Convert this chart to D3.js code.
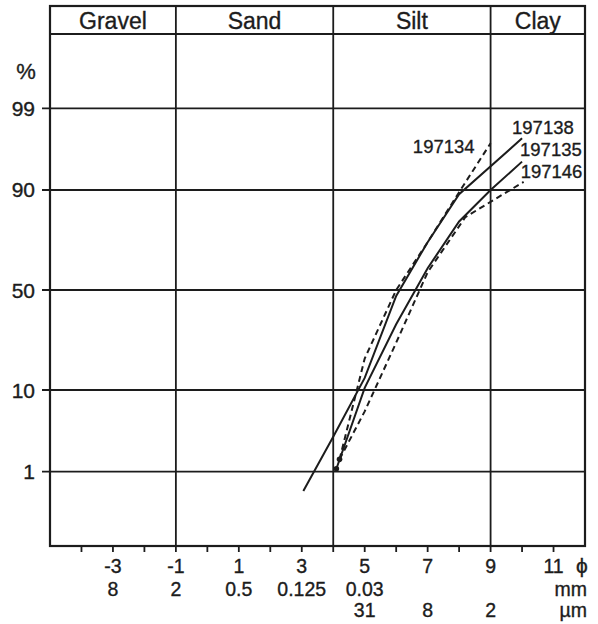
<!DOCTYPE html>
<html>
<head>
<meta charset="utf-8">
<script src="https://cdn.jsdelivr.net/npm/d3@7"></script>
<style>
  body { margin: 0; background: #fff; }
  svg { display: block; font-family: "Liberation Sans", Arial, sans-serif; }
  text { stroke: #1c1c1c; stroke-width: 0.35px; }
</style>
</head>
<body>
<svg id="chart" width="598" height="624"></svg>
<script>
// grain size classes (phi boundaries)
const classNames = ["Gravel", "Sand", "Silt", "Clay"];
const classBounds = [-5, -1, 4, 9, 12];

// axis ticks
const phiTicks = d3.range(-4, 12);
const phiLabels = [-3, -1, 1, 3, 5, 7, 9, 11];
const mmLabels = [[-3, "8"], [-1, "2"], [1, "0.5"], [3, "0.125"], [5, "0.03"]];
const umLabels = [[5, "31"], [7, "8"], [9, "2"]];
const pctTicks = [1, 10, 50, 90, 99];

// cumulative curves: [phi, percent]
const sampleNames = ["197134", "197138", "197135", "197146"];
const s197134 = [[4.2, 1.5], [5, 19], [6, 50], [7, 73], [8, 89.5], [9, 97]];
const s197138 = [[3.05, 0.5], [4, 3], [5, 13], [6, 47], [7, 73], [8, 89], [10, 97.4]];
const s197135 = [[4.1, 1.1], [5, 10.5], [6, 33], [7, 61], [8, 81], [9, 90], [10, 95]];
const s197146 = [[4.2, 1.5], [5, 6], [6, 25], [7, 59], [8.2, 82.5], [10.05, 91.7]];
const sampleData = [s197134, s197138, s197135, s197146];
const dashed = [true, false, false, true];

const svg = d3.select("#chart");
const ink = "#1c1c1c";
const plotLeft = 50, plotRight = 585, plotTop = 6, headBottom = 34, plotBottom = 546;

// inverse normal cdf (Acklam)
function probit(p) {
  const a = [-3.969683028665376e+01, 2.209460984245205e+02, -2.759285104469687e+02, 1.383577518672690e+02, -3.066479806614716e+01, 2.506628277459239e+00];
  const b = [-5.447609879822406e+01, 1.615858368580409e+02, -1.556989798598866e+02, 6.680131188771972e+01, -1.328068155288572e+01];
  const c = [-7.784894002430293e-03, -3.223964580411365e-01, -2.400758277161838e+00, -2.549732539343734e+00, 4.374664141464968e+00, 2.938163982698783e+00];
  const d = [7.784695709041462e-03, 3.224671290700398e-01, 2.445134137142996e+00, 3.754408661907416e+00];
  const pl = 0.02425;
  if (p < pl) {
    const q = Math.sqrt(-2 * Math.log(p));
    return (((((c[0] * q + c[1]) * q + c[2]) * q + c[3]) * q + c[4]) * q + c[5]) / ((((d[0] * q + d[1]) * q + d[2]) * q + d[3]) * q + 1);
  }
  if (p > 1 - pl) {
    const q = Math.sqrt(-2 * Math.log(1 - p));
    return -(((((c[0] * q + c[1]) * q + c[2]) * q + c[3]) * q + c[4]) * q + c[5]) / ((((d[0] * q + d[1]) * q + d[2]) * q + d[3]) * q + 1);
  }
  const q = p - 0.5, r = q * q;
  return (((((a[0] * r + a[1]) * r + a[2]) * r + a[3]) * r + a[4]) * r + a[5]) * q / (((((b[0] * r + b[1]) * r + b[2]) * r + b[3]) * r + b[4]) * r + 1);
}

const x = d3.scaleLinear().domain([-5, 12]).range([plotLeft, plotRight]);
const yz = d3.scaleLinear().domain([-3.28, 3.28]).range([plotBottom, headBottom]);
const y = (pct) => yz(probit(pct / 100));

// grid
svg.selectAll(".hgrid")
  .data(pctTicks)
  .enter()
  .append("line")
  .attr("x1", plotLeft - 8)
  .attr("x2", plotRight)
  .attr("y1", (d) => y(d))
  .attr("y2", (d) => y(d))
  .attr("stroke", ink)
  .attr("stroke-width", 1.8);

svg.selectAll(".vgrid")
  .data(classBounds.slice(1, -1))
  .enter()
  .append("line")
  .attr("x1", (d) => x(d))
  .attr("x2", (d) => x(d))
  .attr("y1", plotTop)
  .attr("y2", plotBottom)
  .attr("stroke", ink)
  .attr("stroke-width", 1.8);

svg.append("line")
  .attr("x1", plotLeft).attr("x2", plotRight)
  .attr("y1", headBottom).attr("y2", headBottom)
  .attr("stroke", ink).attr("stroke-width", 2);

svg.append("rect")
  .attr("x", plotLeft).attr("y", plotTop)
  .attr("width", plotRight - plotLeft).attr("height", plotBottom - plotTop)
  .attr("fill", "none").attr("stroke", ink).attr("stroke-width", 2.2);

// header
svg.selectAll(".cls")
  .data(classNames)
  .enter()
  .append("text")
  .attr("x", (d, i) => (x(classBounds[i]) + x(classBounds[i + 1])) / 2)
  .attr("y", 29)
  .attr("text-anchor", "middle")
  .attr("font-size", "23px")
  .attr("fill", ink)
  .text((d) => d);

// y labels
svg.selectAll(".ylab")
  .data(pctTicks)
  .enter()
  .append("text")
  .attr("x", 35)
  .attr("y", (d) => y(d) + 7.5)
  .attr("text-anchor", "end")
  .attr("font-size", "21px")
  .attr("fill", ink)
  .text((d) => d);

svg.append("text")
  .attr("x", 26).attr("y", 79)
  .attr("text-anchor", "middle")
  .attr("font-size", "22px")
  .attr("fill", ink)
  .text("%");

// x ticks and labels
svg.selectAll(".xtick")
  .data(phiTicks)
  .enter()
  .append("line")
  .attr("x1", (d) => x(d))
  .attr("x2", (d) => x(d))
  .attr("y1", plotBottom)
  .attr("y2", plotBottom + 6)
  .attr("stroke", ink)
  .attr("stroke-width", 1.8);

const rows = [
  [phiLabels.map((d) => [d, d < 0 ? "-" + Math.abs(d) : String(d)]), 573],
  [mmLabels, 596],
  [umLabels, 617]
];
rows.forEach(([labels, yy]) => {
  svg.append("g")
    .selectAll("text")
    .data(labels)
    .enter()
    .append("text")
    .attr("x", (d) => x(d[0]))
    .attr("y", yy)
    .attr("text-anchor", "middle")
    .attr("font-size", "19.5px")
    .attr("fill", ink)
    .text((d) => d[1]);
});

svg.append("text").attr("x", 582).attr("y", 573).attr("text-anchor", "middle")
  .attr("font-size", "21px").attr("fill", ink).text("\u03D5");
svg.append("text").attr("x", 587).attr("y", 596).attr("text-anchor", "end")
  .attr("font-size", "19.5px").attr("fill", ink).text("mm");
svg.append("text").attr("x", 587).attr("y", 617).attr("text-anchor", "end")
  .attr("font-size", "19.5px").attr("fill", ink).text("\u00B5m");

// curves
const line = d3.line()
  .x((d) => x(d[0]))
  .y((d) => y(d[1]));

sampleData.forEach((data, i) => {
  svg.append("path")
    .attr("d", line(data))
    .attr("fill", "none")
    .attr("stroke", ink)
    .attr("stroke-width", 2)
    .attr("stroke-dasharray", dashed[i] ? "6,4" : null);
});

[s197134, s197135].forEach((data) => {
  svg.append("circle")
    .attr("cx", x(data[0][0]))
    .attr("cy", y(data[0][1]))
    .attr("r", 2.8)
    .attr("fill", ink);
});

// curve labels, offset from the last point of each curve
const labelOffsets = [[-16, 10, "end"], [-10, -4, "start"], [-2, -6, "start"], [-3, -4, "start"]];
sampleNames.forEach((name, i) => {
  const last = sampleData[i][sampleData[i].length - 1];
  svg.append("text")
    .attr("x", x(last[0]) + labelOffsets[i][0])
    .attr("y", y(last[1]) + labelOffsets[i][1])
    .attr("text-anchor", labelOffsets[i][2])
    .attr("font-size", "18.5px")
    .attr("fill", ink)
    .text(name);
});
</script>
</body>
</html>
